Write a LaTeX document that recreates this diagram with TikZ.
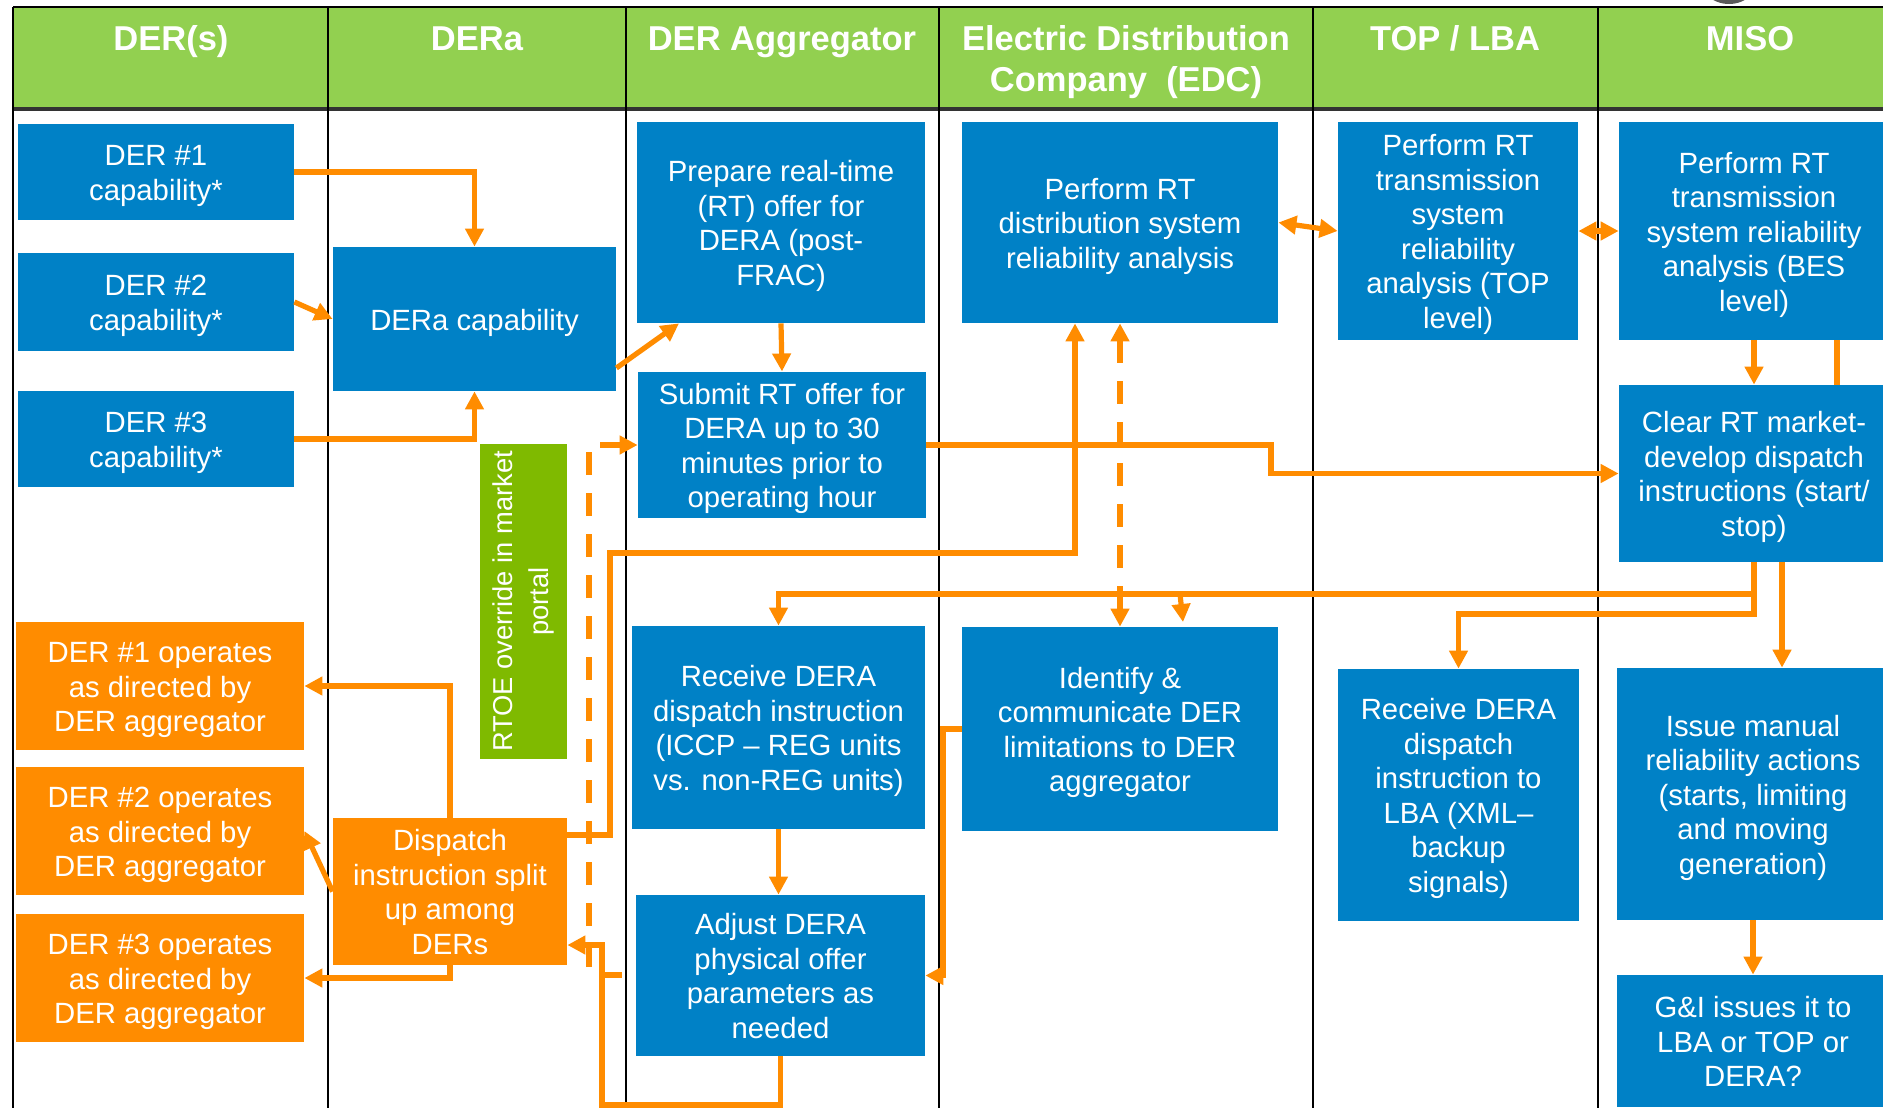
\documentclass[tikz,border=0pt]{standalone}
\usepackage{fontspec}
\setmainfont{Liberation Sans}
\usetikzlibrary{arrows.meta,calc}
\definecolor{hdrgreen}{RGB}{146,208,80}
\definecolor{boxblue}{RGB}{0,129,198}
\definecolor{orng}{RGB}{255,140,0}
\definecolor{rtoegreen}{RGB}{127,186,0}
\newcommand{\mybodyfont}{\fontsize{14.65pt}{17.25pt}\selectfont}
\newcommand{\myhdrfont}{\fontsize{17.25pt}{20.5pt}\selectfont\bfseries}
\newcommand{\myrtoefont}{\fontsize{13.65pt}{18pt}\selectfont}
\newcommand{\mytopstrut}{\rule{0pt}{14.2pt}}
\newcommand{\mybotstrut}{\rule[-3.2pt]{0pt}{3.2pt}}
\newcommand{\mkbox}[7]{\node[#2, minimum width={(#5-#3)*0.5pt}, minimum height={(#6-#4)*0.5pt}] (#1) at ({(#3+#5)/2},{(#4+#6)/2}) {\mytopstrut#7\mybotstrut};}
\begin{document}
\begin{tikzpicture}[x=0.5pt,y=-0.5pt,
  bluebox/.style={fill=boxblue, text=white, align=center, inner sep=2pt, font=\mybodyfont},
  orangebox/.style={fill=orng, text=white, align=center, inner sep=2pt, font=\mybodyfont},
  rtoebox/.style={fill=rtoegreen, text=white, align=center, inner sep=2pt, font=\myrtoefont},
  hdr/.style={text=white, align=center, inner sep=0pt, font=\myhdrfont},
  colline/.style={draw=black, line width=1.2pt},
  conn/.style={draw=orng, line width=2.6pt},
  arr/.style={conn, -{Triangle[width=9pt,length=9pt]}},
  darr/.style={conn, {Triangle[width=9pt,length=9pt]}-{Triangle[width=9pt,length=9pt]}},
  dashline/.style={conn, dash pattern=on 11.5pt off 9pt},
]
\useasboundingbox (0,0) rectangle (1883,1108);
\clip (0,0) rectangle (1883,1108);
\fill[white] (0,0) rectangle (1883,1108);
% grey arc at top
\fill[black!65] (1729,-25) ellipse [x radius=31, y radius=29];
% header band
\fill[hdrgreen] (13,8) rectangle (1890,109);
\draw[black, line width=1.1pt] (13,7) -- (1890,7);
\draw[black!80, line width=1.6pt] (13,109) -- (1890,109);
% column lines
\draw[colline] (13,7) -- (13,1108);
\draw[colline] (328,7) -- (328,1108);
\draw[colline] (626,7) -- (626,1108);
\draw[colline] (939,7) -- (939,1108);
\draw[colline] (1313,7) -- (1313,1108);
\draw[colline] (1598,7) -- (1598,1108);
% headers
\node[hdr, anchor=base] (h1) at (171,50) {DER(s)};
\node[hdr, anchor=base] (h2) at (477,50) {DERa};
\node[hdr, anchor=base] (h3) at (782,50) {DER Aggregator};
\node[hdr, anchor=base] (h4) at (1126,91) {Electric Distribution\\Company\ \ (EDC)};
\node[hdr, anchor=base] (h5) at (1455,50) {TOP / LBA};
\node[hdr, anchor=base] (h6) at (1750,50) {MISO};
% boxes
\mkbox{der1}{bluebox}{18}{124}{294}{220}{DER \#1\\capability*}
\mkbox{der2}{bluebox}{18}{253}{294}{351}{DER \#2\\capability*}
\mkbox{der3}{bluebox}{18}{391}{294}{487}{DER \#3\\capability*}
\mkbox{op1}{orangebox}{16}{622}{304}{750}{DER \#1 operates\\as directed by\\DER aggregator}
\mkbox{op2}{orangebox}{16}{767}{304}{895}{DER \#2 operates\\as directed by\\DER aggregator}
\mkbox{op3}{orangebox}{16}{914}{304}{1042}{DER \#3 operates\\as directed by\\DER aggregator}
\mkbox{deracap}{bluebox}{333}{247}{616}{391}{DERa capability}
\node[rtoebox, rotate=90, minimum width={(759-444)*0.5pt}, minimum height={(567-480)*0.5pt}] (rtoe) at (523.5,601.5) {RTOE override in market\\portal};
\mkbox{split}{orangebox}{333}{820}{567}{963}{Dispatch\\instruction split\\up among\\DERs}
\mkbox{prep}{bluebox}{637}{122}{925}{323}{Prepare real-time\\(RT) offer for\\DERA (post-\\FRAC)}
\mkbox{submit}{bluebox}{638}{373}{926}{517}{Submit RT offer for\\DERA up to 30\\minutes prior to\\operating hour}
\mkbox{recv}{bluebox}{632}{626}{925}{829}{Receive DERA\\dispatch instruction\\(ICCP – REG units\\vs. non-REG units)}
\mkbox{adjust}{bluebox}{636}{895}{925}{1056}{Adjust DERA\\physical offer\\parameters as\\needed}
\mkbox{perfd}{bluebox}{962}{122}{1278}{323}{Perform RT\\distribution system\\reliability analysis}
\mkbox{ident}{bluebox}{962}{627}{1278}{831}{Identify \&\\communicate DER\\limitations to DER\\aggregator}
\mkbox{top1}{bluebox}{1338}{122}{1578}{340}{Perform RT\\transmission\\system\\reliability\\analysis (TOP\\level)}
\mkbox{lba}{bluebox}{1338}{669}{1579}{921}{Receive DERA\\dispatch\\instruction to\\LBA (XML–\\backup\\signals)}
\mkbox{miso1}{bluebox}{1619}{122}{1889}{340}{Perform RT\\transmission\\system reliability\\analysis (BES\\level)}
\mkbox{clear}{bluebox}{1619}{385}{1889}{562}{Clear RT market-\\develop dispatch\\instructions (start/\\stop)}
\mkbox{issue}{bluebox}{1617}{668}{1889}{920}{Issue manual\\reliability actions\\(starts, limiting\\and moving\\generation)}
\mkbox{gi}{bluebox}{1617}{975}{1889}{1107}{G\&I issues it to\\LBA or TOP or\\DERA?}
% connectors
\draw[arr] (der1.east) -| (deracap.north);
\draw[arr] (der2.east) -- (deracap.west);
\draw[arr] (der3.east) -| (deracap.south);
\draw[arr] (deracap.east |- 0,368) -- (prep.south west -| 679,0);
\draw[arr] (prep.south) -- (submit.north);
\draw[arr] (submit.east) -- (1271,445) |- (clear.west);
\coordinate (dashstart) at (589,967);
\coordinate (dtop) at (589,451);
\draw[dashline] (dashstart) -- (dtop);
\draw[arr] (600,445) -- (submit.west);
\draw[arr] (split.east |- 0,835) -- (610,835) -- (610,553) -- (1075,553) -- (perfd.south -| 1075,0);
\draw[arr] (recv.south) -- (recv.south |- adjust.north);
\draw[arr] (adjust.south) |- (602,1105) |- (split.east |- 0,945);
\coordinate (stubA) at (599,975);
\coordinate (stubB) at (622,975);
\draw[conn] (stubA) -- (stubB);
\draw[arr] (ident.west) -- (943,729) |- (adjust.east);
\draw[darr, dash pattern=on 11.5pt off 9pt] (perfd.south) -- (ident.north);
\draw[darr] (perfd.east) -- (top1.west);
\draw[darr] (top1.east) -- (miso1.west);
\draw[arr] (miso1.south) -- (clear.north);
\draw[conn] (miso1.south -| 1837,0) -- (clear.north -| 1837,0);
\draw[arr] (clear.south) -- (1754,594) -| (recv.north);
\coordinate (brA) at (1180,594);
\coordinate (brB) at (1183,622);
\draw[arr] (brA) -- (brB);
\draw[arr] (clear.south) -- (1754,614) -| (lba.north);
\draw[arr] (clear.south -| 1782,0) -- (issue.north -| 1782,0);
\draw[arr] (issue.south) -- (gi.north);
\draw[arr] (split.north) |- (op1.east);
\draw[arr] (split.west) -- (op2.east);
\draw[arr] (split.south) |- (op3.east);
\end{tikzpicture}
\end{document}
